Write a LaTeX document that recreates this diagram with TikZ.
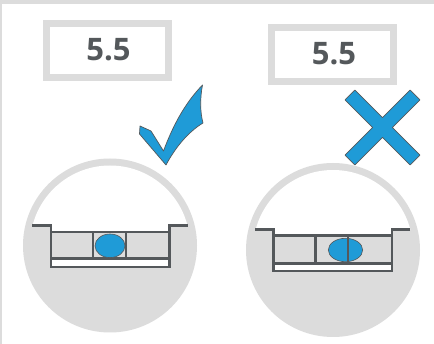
\documentclass[tikz,border=0pt]{standalone}
\usepackage{fontspec}
\setmainfont{Open Sans}
\begin{document}
\definecolor{panelgray}{HTML}{DCDCDC}
\definecolor{ink}{HTML}{54585B}
\definecolor{markblue}{HTML}{1F9BD7}
\begin{tikzpicture}[x=1pt,y=-1pt,
  readout/.style={draw=panelgray,line width=6.7pt,fill=white},
  readtext/.style={text=ink,font=\bfseries\fontsize{31}{31}\selectfont,inner sep=0pt},
  levelline/.style={draw=ink,line width=2.5pt},
  bubble/.style={fill=markblue,draw=ink,line width=0.6pt},
  signshape/.style={fill=markblue,draw=ink,line width=0.7pt,line join=round}]
\useasboundingbox (0,0) rectangle (434,344);
\fill[white] (0,0) rectangle (434,344);
% frame edges
\fill[panelgray] (0,0) rectangle (434,4);
\fill[panelgray] (0,0) rectangle (2,344);

% readout boxes
\draw[readout] (46.3,23.3) rectangle (168.7,77.7);
\node[readtext] (valA) at (108.5,50) {5.5};
\draw[readout] (271.3,27.3) rectangle (393.7,81.7);
\node[readtext] (valB) at (334,53.5) {5.5};

% tick mark
\path[signshape] (140,126) -- (151,131) -- (163.5,151)
  .. controls (175,120) and (188,100) .. (202.5,85)
  .. controls (200,98) and (200,112) .. (203,123)
  .. controls (188,132) and (175,148) .. (166,165)
  -- (139.5,134) -- cycle;

% cross mark
\begin{scope}[shift={(382.5,127.5)},rotate=45]
\path[signshape] (46,7) -- (46,-7) -- (7,-7) -- (7,-46) -- (-7,-46) -- (-7,-7)
  -- (-46,-7) -- (-46,7) -- (-7,7) -- (-7,46) -- (7,46) -- (7,7) -- cycle;
\end{scope}

% ---- level, centred bubble ----
\fill[panelgray] (110,245.5) circle (87);
\begin{scope}
\clip (110,245.5) circle (80);
\fill[white] (20,150) -- (200,150) -- (200,225.5) -- (169.5,225.5) -- (169.5,232)
  -- (51,232) -- (51,225.5) -- (20,225.5) -- cycle;
\end{scope}
\fill[white] (51,258.7) rectangle (169.5,267);
\draw[levelline] (32,225.5) -- (51,225.5) -- (51,267) -- (169.5,267) -- (169.5,225.5) -- (188,225.5);
\draw[levelline] (51,232) -- (169.5,232);
\draw[levelline] (51,258.7) -- (169.5,258.7);
\draw[levelline] (93,232) -- (93,258.7);
\draw[levelline] (126.2,232) -- (126.2,258.7);
\path[bubble] (110,245.8) ellipse [x radius=15,y radius=11.8];

% ---- level, off-centre bubble ----
\fill[panelgray] (333,250) circle (87);
\begin{scope}
\clip (333,250) circle (80);
\fill[white] (240,150) -- (430,150) -- (430,229.7) -- (392,229.7) -- (392,235.3)
  -- (273.5,235.3) -- (273.5,229.7) -- (240,229.7) -- cycle;
\end{scope}
\fill[white] (273.5,263.7) rectangle (392,271.2);
\draw[levelline] (255,229.7) -- (273.5,229.7) -- (273.5,271.2) -- (392,271.2) -- (392,229.7) -- (410,229.7);
\draw[levelline] (273.5,235.3) -- (392,235.3);
\draw[levelline] (273.5,263.7) -- (392,263.7);
\draw[levelline] (315.3,235.3) -- (315.3,263.7);
\path[bubble] (345.5,250) ellipse [x radius=17.2,y radius=11.7];
\draw[levelline] (348,235.3) -- (348,263.7);
\end{tikzpicture}
\end{document}
